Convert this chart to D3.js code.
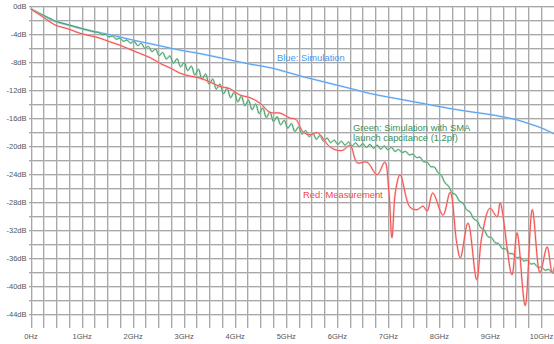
<!DOCTYPE html>
<html>
<head>
<meta charset="utf-8">
<script src="https://cdn.jsdelivr.net/npm/d3@7"></script>
<style>
  body { margin: 0; background: #fff; }
  svg { display: block; font-family: "Liberation Sans", Arial, sans-serif; }
</style>
</head>
<body>
<div id="chart"></div>
<script>
// tick labels
const freqTicks = [0, 1, 2, 3, 4, 5, 6, 7, 8, 9, 10];
const freqLabels = ["0Hz", "1GHz", "2GHz", "3GHz", "4GHz", "5GHz", "6GHz", "7GHz", "8GHz", "9GHz", "10GHz"];
const dbTicks = [0, -4, -8, -12, -16, -20, -24, -28, -32, -36, -40, -44];
const dbLabels = ["0dB", "-4dB", "-8dB", "-12dB", "-16dB", "-20dB", "-24dB", "-28dB", "-32dB", "-36dB", "-40dB", "-44dB"];

// Blue: Simulation (GHz, dB)
const blueFreq = [0, 0.25, 0.48, 0.75, 0.97, 1.25, 1.56, 1.85, 2.15, 2.45, 2.73, 3.0, 3.32, 3.65, 3.97, 4.3, 4.69, 5.0,
  5.34, 5.67, 6.0, 6.33, 6.65, 7.0, 7.3, 7.63, 7.96, 8.3, 8.61, 8.95, 9.26, 9.55, 9.8, 10.0, 10.24, 10.3];
const blueDb = [-0.4, -1.4, -2.2, -2.75, -3.2, -3.65, -4.1, -4.6, -5.1, -5.55, -6.0, -6.4, -6.8, -7.3, -7.8, -8.3, -8.8, -9.4,
  -10.1, -10.7, -11.3, -11.9, -12.5, -13.0, -13.4, -13.85, -14.3, -14.75, -15.1, -15.45, -15.85, -16.3, -16.9, -17.4, -18.2, -18.4];

// Green: Simulation with SMA launch capacitance, sampled every 0.07 GHz from 0
const greenStep = 0.07;
const greenDb = [
  -0.40, -0.65, -0.90, -1.16, -1.41, -1.66, -1.91, -2.18, -2.32, -2.46,
  -2.60, -2.74, -2.88, -3.02, -3.16, -3.30, -3.44, -3.58, -3.72, -3.76,
  -4.10, -4.05, -4.40, -4.30, -4.75, -4.60, -5.03, -4.86, -5.29, -5.03,
  -5.66, -5.32, -6.05, -5.78, -6.52, -6.15, -7.08, -6.63, -7.58, -7.13,
  -8.18, -7.53, -8.69, -8.06, -9.23, -8.60, -9.86, -9.03, -10.46, -9.71,
  -11.17, -10.43, -11.89, -11.15, -12.54, -11.72, -13.11, -12.30, -13.69, -12.87,
  -14.25, -13.43, -14.81, -13.99, -15.37, -14.56, -15.95, -15.13, -16.52, -15.80,
  -16.98, -16.32, -17.46, -16.80, -17.94, -17.28, -18.30, -17.79, -18.68, -18.16,
  -19.05, -18.49, -19.33, -18.87, -19.51, -19.15, -19.77, -19.32, -19.88, -19.43,
  -19.99, -19.55, -20.10, -19.66, -20.21, -19.77, -20.33, -19.88, -20.44, -19.99,
  -20.55, -20.17, -20.78, -20.50, -20.92, -20.78, -21.27, -21.16, -21.64, -21.60,
  -22.25, -22.30, -22.95, -23.00, -23.77, -24.22, -25.27, -25.73, -26.69, -26.97,
  -27.86, -28.15, -29.09, -29.44, -30.38, -30.73, -31.67, -32.01, -32.95, -33.08,
  -33.81, -33.94, -34.65, -34.70, -35.35, -35.40, -35.97, -35.89, -36.41, -36.33,
  -36.85, -36.80, -37.34, -37.28, -37.75, -37.63, -38.10, -38.10
];

// Red: Measurement (GHz, dB)
const redFreq = [0, 0.25, 0.48, 0.75, 0.97, 1.2, 1.36, 1.55, 1.75, 1.95, 2.15, 2.35, 2.54, 2.75, 2.93, 3.12, 3.32, 3.5,
  3.71, 3.9, 4.1, 4.3, 4.5, 4.69, 4.89, 5.08, 5.2, 5.34, 5.48, 5.62, 5.86, 6.0, 6.12, 6.26, 6.4, 6.59, 6.79, 6.94,
  7.02, 7.08, 7.15, 7.24, 7.43, 7.57, 7.69, 7.77, 7.88, 8.08, 8.22, 8.35, 8.42, 8.57, 8.74, 8.84, 9.0, 9.14, 9.2,
  9.43, 9.53, 9.69, 9.83, 9.98, 10.12, 10.22, 10.3];
const redDb = [-0.4, -1.6, -2.7, -3.3, -3.9, -4.3, -4.6, -5.1, -5.6, -6.2, -6.8, -7.4, -8.2, -8.9, -9.6, -10.0, -10.3, -10.8,
  -11.5, -11.8, -12.7, -13.1, -13.9, -15.2, -15.3, -16.0, -16.2, -18.0, -18.4, -18.1, -20.1, -20.6, -20.6, -19.9, -22.4, -22.3, -24.1, -22.3,
  -26.5, -33.1, -26.5, -24.1, -28.7, -29.1, -28.6, -29.3, -26.7, -29.9, -26.6, -33.9, -36.0, -31.0, -39.1, -33.0, -28.9, -30.1, -28.1,
  -38.4, -32.4, -42.8, -29.1, -38.1, -34.4, -38.1, -36.0];

const W = 554, H = 344;
const x = d3.scaleLinear().domain([0, 10]).range([30.5, 541]);
const y = d3.scaleLinear().domain([0, -46]).range([6, 328]);
const fMax = 10.25;

const svg = d3.select("#chart").append("svg")
  .attr("width", W).attr("height", H);

svg.append("rect").attr("width", W).attr("height", H).attr("fill", "#fff");

svg.append("defs").append("clipPath").attr("id", "plot")
  .append("rect")
  .attr("x", x(0)).attr("y", y(0) - 2)
  .attr("width", W - x(0)).attr("height", y(-46) - y(0) + 2);

const vTicks = d3.range(0, fMax + 0.01, 0.25);
const hTicks = d3.range(0, -45, -2);

// grid: a light shadow line plus the darker line
function grid(offset, color) {
  const g = svg.append("g").attr("shape-rendering", "crispEdges");
  g.append("g")
    .attr("transform", `translate(${offset},${y(-46)})`)
    .call(d3.axisBottom(x).tickValues(vTicks).tickSize(-(y(-46) - y(0))).tickFormat(""))
    .call(a => a.select(".domain").remove())
    .selectAll("line").attr("stroke", color);
  g.append("g")
    .attr("transform", `translate(${x(0) - 2},${offset})`)
    .call(d3.axisLeft(y).tickValues(hTicks).tickSize(-(W - x(0) + 2)).tickFormat(""))
    .call(a => a.select(".domain").remove())
    .selectAll("line").attr("stroke", color);
}
grid(1, "#e0e0e0");
grid(0, "#a8a8a8");

// tick labels
const yAxis = svg.append("g")
  .attr("transform", `translate(${x(0) - 4},0)`)
  .call(d3.axisLeft(y).tickValues(dbTicks).tickSize(0).tickFormat((d, i) => dbLabels[i]));
yAxis.select(".domain").remove();
yAxis.selectAll("text").attr("fill", "#555").style("font-size", "7.5px")
  .style("font-family", "Liberation Sans, Arial, sans-serif").attr("x", 0);

const xAxis = svg.append("g")
  .attr("transform", `translate(0,${y(-46) + 3})`)
  .call(d3.axisBottom(x).tickValues(freqTicks).tickSize(0).tickFormat((d, i) => freqLabels[i]));
xAxis.select(".domain").remove();
xAxis.selectAll("text").attr("fill", "#555").style("font-size", "7.5px")
  .style("font-family", "Liberation Sans, Arial, sans-serif");

// curves
const line = d3.line()
  .x(d => x(d[0]))
  .y(d => y(d[1]))
  .curve(d3.curveCatmullRom.alpha(0.5));

const blueData = blueFreq.map((f, i) => [f, blueDb[i]]);
const greenData = greenDb.map((v, i) => [i * greenStep, v]);
const redData = redFreq.map((f, i) => [f, redDb[i]]);

const series = [
  {data: blueData, color: "#4f9cf2", halo: "#a9cdf7"},
  {data: greenData, color: "#3f9a63", halo: "#a6d3b6"},
  {data: redData, color: "#f24a4a", halo: "#f9aaaa"}
];

const plot = svg.append("g").attr("clip-path", "url(#plot)");
series.forEach(s => {
  plot.append("path").attr("d", line(s.data))
    .attr("fill", "none").attr("stroke", s.halo).attr("stroke-width", 2.2).attr("stroke-opacity", 0.6);
  plot.append("path").attr("d", line(s.data))
    .attr("fill", "none").attr("stroke", s.color).attr("stroke-width", 1);
});

// annotations
const note = (tx, ty, txt, color) => svg.append("text")
  .attr("x", tx).attr("y", ty).attr("fill", color)
  .style("font-size", "9.4px").text(txt);

note(277, 60.5, "Blue: Simulation", "#4a98ee");
note(353, 130.5, "Green: Simulation with SMA", "#3a9060");
note(353, 141, "launch capcitance (1.2pf)", "#3a9060");
note(303, 197.5, "Red: Measurement", "#f04a4a");
</script>
</body>
</html>
